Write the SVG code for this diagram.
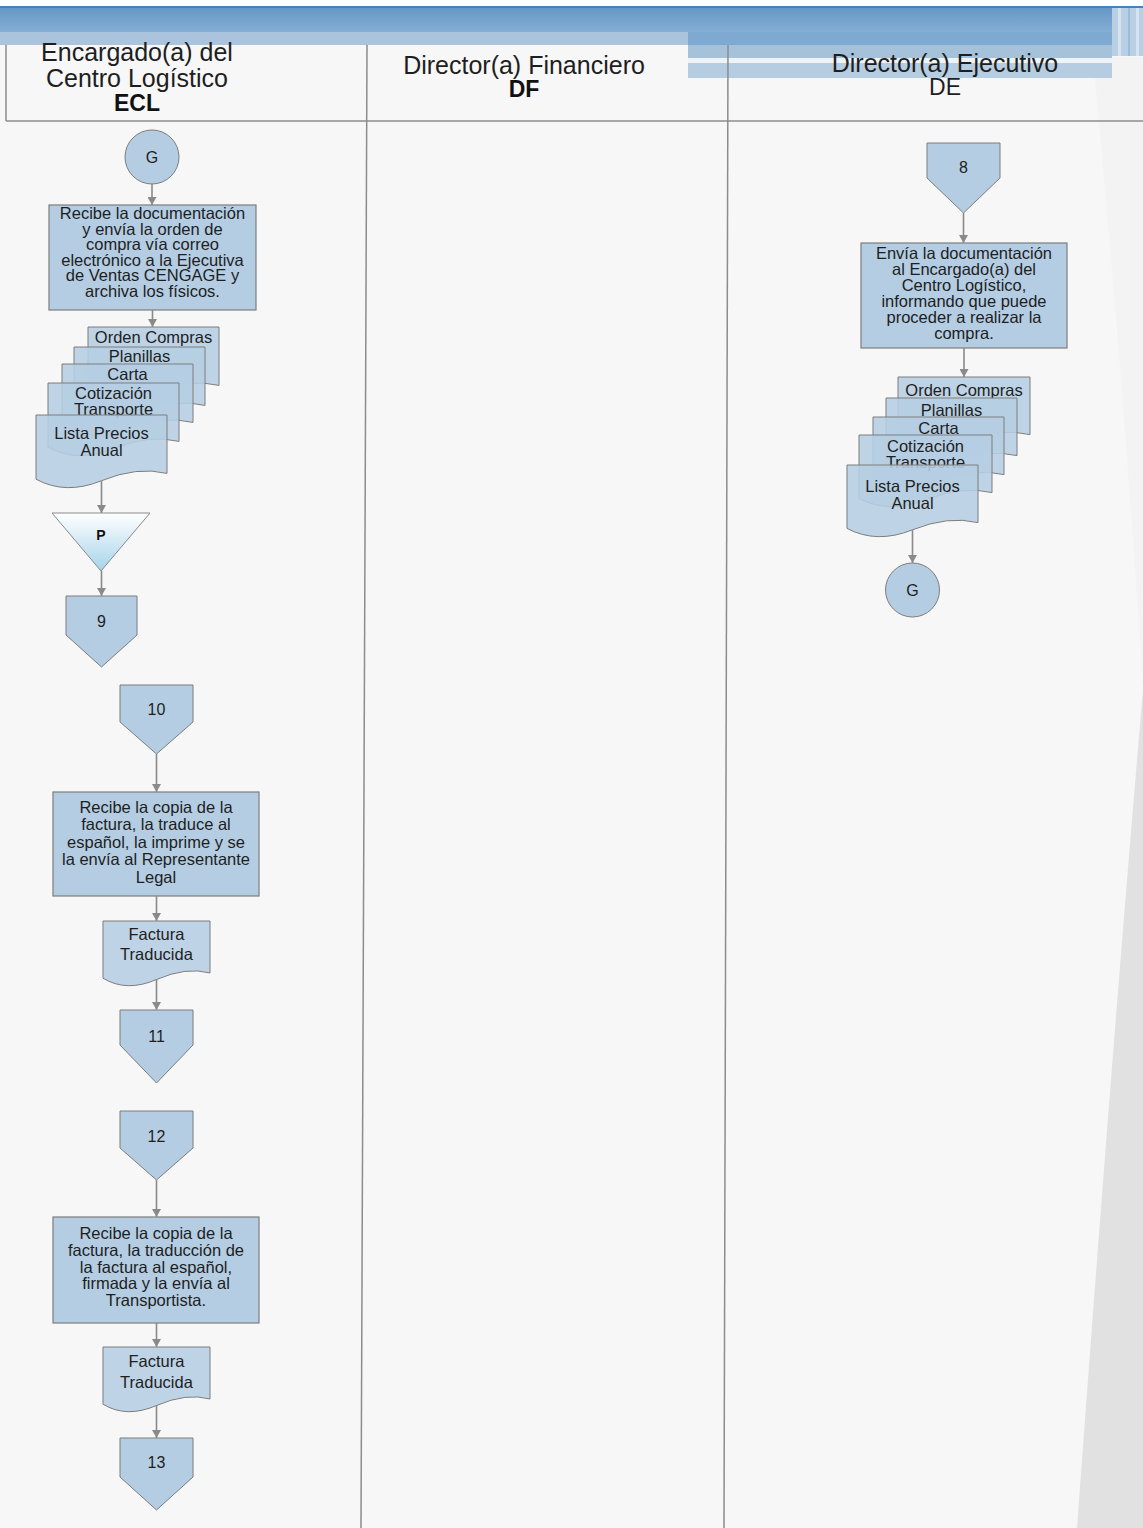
<svg xmlns="http://www.w3.org/2000/svg" width="1143" height="1528" viewBox="0 0 1143 1528">
  <style>
    .t{font-family:"Liberation Sans",Arial,sans-serif;font-size:16.5px;fill:#1e1e1e;text-anchor:middle}
    .hd{font-family:"Liberation Sans",Arial,sans-serif;font-size:25px;fill:#1e1e1e;text-anchor:middle}
    .hb{font-family:"Liberation Sans",Arial,sans-serif;font-size:23px;fill:#111;text-anchor:middle;font-weight:bold}
    .num{font-family:"Liberation Sans",Arial,sans-serif;font-size:16px;fill:#1e1e1e;text-anchor:middle}
    .box{fill:#b4cde3;stroke:#7d7d7d;stroke-width:1.2}
    .doc{fill:#b6cee3;fill-opacity:0.88;stroke:#7d7d7d;stroke-width:1}
    .ref{fill:#b4cde3;stroke:#7d7d7d;stroke-width:1}
    .lane{stroke:#8c8c8c;stroke-width:1.5;fill:none}
    .conn line{stroke:#8a8a8a;stroke-width:1.6;marker-end:url(#ah)}
  </style>
  <defs>
    <marker id="ah" markerUnits="userSpaceOnUse" markerWidth="9" markerHeight="9" refX="8" refY="4.5" orient="auto">
      <path d="M0,0 L8,4.5 L0,9 Z" fill="#8a8a8a"/>
    </marker>
    <linearGradient id="band" x1="0" y1="0" x2="0" y2="1">
      <stop offset="0" stop-color="#6598c6"/>
      <stop offset="1" stop-color="#86afd4"/>
    </linearGradient>
    <linearGradient id="tri" x1="0" y1="0" x2="0" y2="1">
      <stop offset="0" stop-color="#ffffff"/>
      <stop offset="1" stop-color="#a6d3ea"/>
    </linearGradient>
  </defs>

  <!-- page -->
  <rect x="0" y="0" width="1143" height="1528" fill="#f7f7f7"/>
  <rect x="0" y="0" width="1143" height="6" fill="#ffffff"/>
  <path d="M1143,690 Q1112,1050 1077,1528 L1143,1528 Z" fill="#e1e1e1"/>
  <path d="M1093,57 L1143,57 L1143,690 Q1125,400 1093,57 Z" fill="#f3f3f3"/>

  <!-- header band -->
  <rect x="0" y="6" width="1143" height="2" fill="#4b80b3"/>
  <rect x="0" y="8" width="1143" height="25" fill="url(#band)"/>
  <rect x="0" y="32" width="688" height="13" fill="#a9c4dc"/>
  <rect x="688" y="32" width="424" height="13" fill="#7ea9d0"/>
  <rect x="688" y="45" width="424" height="13" fill="#a6c1da"/>
  <rect x="688" y="58" width="424" height="5" fill="#eef3f8"/>
  <rect x="688" y="63" width="424" height="15" fill="#b6cde1"/>
  <rect x="1112" y="8" width="31" height="48" fill="#b9cfe3"/>
  <rect x="1118" y="8" width="3" height="48" fill="#d7e4ef"/>
  <rect x="1128" y="8" width="2" height="48" fill="#9dbcd8"/>
  <rect x="1136" y="8" width="3" height="48" fill="#d7e4ef"/>

  <!-- lanes -->
  <g id="lanes">
    <line class="lane" x1="6" y1="45" x2="6" y2="121"/>
    <line class="lane" x1="367" y1="45" x2="361" y2="1528"/>
    <line class="lane" x1="728" y1="45" x2="724" y2="1528"/>
    <line class="lane" x1="6" y1="121" x2="1143" y2="121"/>
  </g>

  <g id="lane-ecl">
    <text class="hd" x="137" y="61">Encargado(a) del</text>
    <text class="hd" x="137" y="87">Centro Logístico</text>
    <text class="hb" x="137" y="111">ECL</text>
  </g>
  <g id="lane-df">
    <text class="hd" x="524" y="74">Director(a) Financiero</text>
    <text class="hb" x="524" y="97">DF</text>
  </g>
  <g id="lane-de">
    <text class="hd" x="945" y="72">Director(a) Ejecutivo</text>
    <text class="hd" x="945" y="95" style="font-size:23px">DE</text>
  </g>

  <!-- ECL lane -->
  <g id="g-left">
    <circle class="ref" cx="152" cy="157" r="27"/>
    <text class="num" x="152" y="163">G</text>
  </g>

  <g id="step-recibe-doc">
    <rect class="box" x="49" y="205" width="207" height="105"/>
    <text class="t" x="152.5" y="218.5">Recibe la documentación</text>
    <text class="t" x="152.5" y="234.5">y envía la orden de</text>
    <text class="t" x="152.5" y="250">compra vía correo</text>
    <text class="t" x="152.5" y="265.5">electrónico a la Ejecutiva</text>
    <text class="t" x="152.5" y="281">de Ventas CENGAGE y</text>
    <text class="t" x="152.5" y="297">archiva los físicos.</text>
  </g>

  <g id="docs-left">
    <path class="doc" d="M88,327 H219 V385.4 Q189.2,378.1 153.5,392.7 T88,391.2 Z"/>
    <text class="t" x="153.5" y="343">Orden Compras</text>
    <path class="doc" d="M74,347 H205 V405.4 Q175.2,398.1 139.5,412.7 T74,411.2 Z"/>
    <text class="t" x="139.5" y="362">Planillas</text>
    <path class="doc" d="M62,364 H193 V422.4 Q163.2,415.1 127.5,429.7 T62,428.2 Z"/>
    <text class="t" x="127.5" y="380">Carta</text>
    <path class="doc" d="M48,383 H179 V441.4 Q149.2,434.1 113.5,448.7 T48,447.2 Z"/>
    <text class="t" x="113.5" y="398.5">Cotización</text>
    <text class="t" x="113.5" y="414.5">Transporte</text>
    <path class="doc" d="M36,415 H167 V473.4 Q137.2,466.1 101.5,480.7 T36,479.2 Z"/>
    <text class="t" x="101.5" y="438.5">Lista Precios</text>
    <text class="t" x="101.5" y="455.5">Anual</text>
  </g>

  <g id="merge-p">
    <path d="M52,513 H150 L101,571 Z" fill="url(#tri)" stroke="#8a8a8a" stroke-width="1"/>
    <text x="101" y="540" style="font-family:'Liberation Sans',Arial,sans-serif;font-size:14px;font-weight:bold;fill:#111;text-anchor:middle">P</text>
  </g>

  <g id="ref-9">
    <path class="ref" d="M66,596 H137 V635 L101.5,667 L66,635 Z"/>
    <text class="num" x="101.5" y="627">9</text>
  </g>

  <g id="ref-10">
    <path class="ref" d="M120,685 H193 V722 L156.5,754 L120,722 Z"/>
    <text class="num" x="156.5" y="715">10</text>
  </g>

  <g id="step-traduce">
    <rect class="box" x="53" y="792" width="206" height="104"/>
    <text class="t" x="156" y="812.5">Recibe la copia de la</text>
    <text class="t" x="156" y="830">factura, la traduce al</text>
    <text class="t" x="156" y="847.5">español, la imprime y se</text>
    <text class="t" x="156" y="865">la envía al Representante</text>
    <text class="t" x="156" y="882.5">Legal</text>
  </g>

  <g id="doc-factura-1">
    <path class="doc" d="M103,921 H210 V973 Q186.5,966.5 156.5,979.5 T103,978.2 Z"/>
    <text class="t" x="156.5" y="939.5">Factura</text>
    <text class="t" x="156.5" y="959.5">Traducida</text>
  </g>

  <g id="ref-11">
    <path class="ref" d="M120,1010 H193 V1045 L156.5,1083 L120,1045 Z"/>
    <text class="num" x="156.5" y="1042">11</text>
  </g>

  <g id="ref-12">
    <path class="ref" d="M120,1111 H193 V1148 L156.5,1180 L120,1148 Z"/>
    <text class="num" x="156.5" y="1142">12</text>
  </g>

  <g id="step-firma">
    <rect class="box" x="53" y="1217" width="206" height="106"/>
    <text class="t" x="156" y="1238.5">Recibe la copia de la</text>
    <text class="t" x="156" y="1255.5">factura, la traducción de</text>
    <text class="t" x="156" y="1272.5">la factura al español,</text>
    <text class="t" x="156" y="1289">firmada y la envía al</text>
    <text class="t" x="156" y="1305.5">Transportista.</text>
  </g>

  <g id="doc-factura-2">
    <path class="doc" d="M103,1347 H210 V1399 Q186.5,1392.5 156.5,1405.5 T103,1404.2 Z"/>
    <text class="t" x="156.5" y="1366.5">Factura</text>
    <text class="t" x="156.5" y="1387.5">Traducida</text>
  </g>

  <g id="ref-13">
    <path class="ref" d="M120,1438 H193 V1477 L156.5,1510 L120,1477 Z"/>
    <text class="num" x="156.5" y="1468">13</text>
  </g>

  <!-- DE lane -->
  <g id="ref-8">
    <path class="ref" d="M927,143 H1000 V178 L963.5,213 L927,178 Z"/>
    <text class="num" x="963.5" y="173">8</text>
  </g>

  <g id="step-envia-doc">
    <rect class="box" x="861" y="243" width="206" height="105"/>
    <text class="t" x="964" y="259">Envía la documentación</text>
    <text class="t" x="964" y="275">al Encargado(a) del</text>
    <text class="t" x="964" y="291">Centro Logístico,</text>
    <text class="t" x="964" y="307">informando que puede</text>
    <text class="t" x="964" y="323">proceder a realizar la</text>
    <text class="t" x="964" y="339">compra.</text>
  </g>

  <g id="docs-right">
    <path class="doc" d="M898,377 H1030 V434.6 Q1000,427.4 964,441.8 T898,440.4 Z"/>
    <text class="t" x="964" y="395.5">Orden Compras</text>
    <path class="doc" d="M886,398 H1017 V455.6 Q987.2,448.4 951.5,462.8 T886,461.4 Z"/>
    <text class="t" x="951.5" y="415.5">Planillas</text>
    <path class="doc" d="M873,417 H1004 V474.6 Q974.2,467.4 938.5,481.8 T873,480.4 Z"/>
    <text class="t" x="938.5" y="433.5">Carta</text>
    <path class="doc" d="M859,435 H992 V492.6 Q962.3,485.4 925.5,499.8 T859,498.4 Z"/>
    <text class="t" x="925.5" y="451.5">Cotización</text>
    <text class="t" x="925.5" y="467.5">Transporte</text>
    <path class="doc" d="M847,465 H978 V522.6 Q948.2,515.4 912.5,529.8 T847,528.4 Z"/>
    <text class="t" x="912.5" y="491.5">Lista Precios</text>
    <text class="t" x="912.5" y="508.5">Anual</text>
  </g>

  <g id="g-right">
    <circle class="ref" cx="912.5" cy="590" r="27"/>
    <text class="num" x="912.5" y="596">G</text>
  </g>

  <!-- connectors -->
  <g id="connectors" class="conn">
    <line x1="152" y1="184" x2="152" y2="205"/>
    <line x1="152.5" y1="310" x2="152.5" y2="327"/>
    <line x1="101.5" y1="481" x2="101.5" y2="513"/>
    <line x1="101.5" y1="571" x2="101.5" y2="596"/>
    <line x1="156.5" y1="754" x2="156.5" y2="792"/>
    <line x1="156.5" y1="896" x2="156.5" y2="921"/>
    <line x1="156.5" y1="979" x2="156.5" y2="1010"/>
    <line x1="156.5" y1="1180" x2="156.5" y2="1217"/>
    <line x1="156.5" y1="1323" x2="156.5" y2="1347"/>
    <line x1="156.5" y1="1405" x2="156.5" y2="1438"/>
    <line x1="963.5" y1="213" x2="963.5" y2="243"/>
    <line x1="964" y1="348" x2="964" y2="377"/>
    <line x1="912.5" y1="530" x2="912.5" y2="563"/>
  </g>
</svg>
